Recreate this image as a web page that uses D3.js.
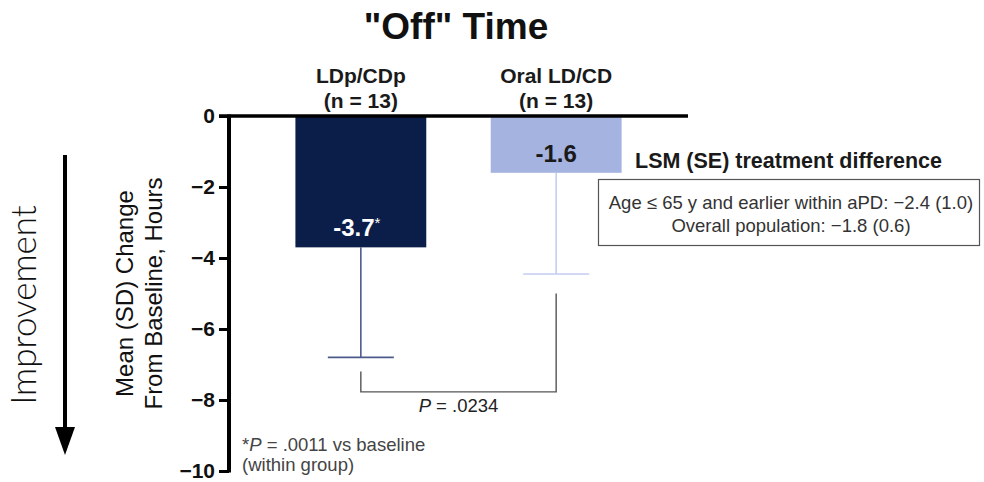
<!DOCTYPE html>
<head>
    <meta charset="utf-8">
    <title>"Off" Time</title>
    <style>
        body { margin: 0; background: #fff; }
        svg { display: block; font-family: "Liberation Sans", Arial, sans-serif; }
    </style>
</head>
<body>

<svg width="984" height="482"></svg>

<script src="https://d3js.org/d3.v7.min.js"></script>

<script>

// data
var groups = ['LDp/CDp', 'Oral LD/CD'],
    groupN = ['(n = 13)', '(n = 13)'],
    means = [-3.7, -1.6],
    sds = [3.1, 2.85],
    valueLabels = ['-3.7', '-1.6'],
    yTicks = [0, -2, -4, -6, -8, -10],
    lsmLines = ['Age \u2264 65 y and earlier within aPD: \u22122.4 (1.0)', 'Overall population: \u22121.8 (0.6)'];

var svg = d3.select('svg');

var barFill = ['#0b1e4a', '#a4b3e0'],
    errColor = ['#4c5a8c', '#c4cdf0'],
    labelColor = ['#ffffff', '#1a1a1a'];

var y = d3.scaleLinear()
    .domain([0, -10])
    .range([116, 471]);

var x = d3.scaleBand()
    .domain(groups)
    .range([229, 688])
    .paddingInner(0.33)
    .paddingOuter(0.34);

var data = groups.map((g, i) => ({ g: g, n: groupN[i], mean: means[i], sd: sds[i], label: valueLabels[i], i: i }));

// title
svg.append('text')
    .attr('x', 456).attr('y', 39)
    .attr('text-anchor', 'middle')
    .attr('font-size', 37).attr('font-weight', 'bold')
    .attr('fill', '#111')
    .text('"Off" Time');

// bars
svg.selectAll('rect.bar')
    .data(data)
    .enter().append('rect')
        .attr('class', 'bar')
        .attr('x', d => x(d.g))
        .attr('y', y(0))
        .attr('width', x.bandwidth())
        .attr('height', d => y(d.mean) - y(0))
        .attr('fill', d => barFill[d.i]);

// error bars (downwards only)
var err = svg.selectAll('g.err')
    .data(data)
    .enter().append('g')
        .attr('class', 'err')
        .attr('stroke', d => errColor[d.i])
        .attr('stroke-width', 1.6);

err.append('line')
    .attr('x1', d => x(d.g) + x.bandwidth() / 2)
    .attr('x2', d => x(d.g) + x.bandwidth() / 2)
    .attr('y1', d => y(d.mean))
    .attr('y2', d => y(d.mean - d.sd));

err.append('line')
    .attr('x1', d => x(d.g) + x.bandwidth() / 2 - 33)
    .attr('x2', d => x(d.g) + x.bandwidth() / 2 + 33)
    .attr('y1', d => y(d.mean - d.sd))
    .attr('y2', d => y(d.mean - d.sd));

// y axis
var yAxis = d3.axisLeft(y)
    .tickValues(yTicks)
    .tickSize(10)
    .tickPadding(4)
    .tickFormat(d => d === 0 ? '0' : '\u2212' + Math.abs(d));

var gy = svg.append('g')
    .attr('transform', 'translate(229,0)')
    .call(yAxis);

gy.select('.domain').remove();
gy.selectAll('.tick line').attr('stroke', '#000').attr('stroke-width', 3);
gy.selectAll('.tick text')
    .attr('font-size', 21).attr('font-weight', 'bold')
    .attr('fill', '#111')
    .attr('font-family', '"Liberation Sans", Arial, sans-serif');

// vertical axis line, drawn thick like the original
svg.append('line')
    .attr('x1', 229).attr('x2', 229)
    .attr('y1', y(0) - 1.5).attr('y2', y(-10) + 1.5)
    .attr('stroke', '#000').attr('stroke-width', 4);

// zero line across the top
svg.append('line')
    .attr('x1', 219).attr('x2', x.range()[1])
    .attr('y1', y(0)).attr('y2', y(0))
    .attr('stroke', '#000').attr('stroke-width', 3.5);

// group labels above the zero line
var cat = svg.selectAll('text.cat')
    .data(data)
    .enter().append('text')
        .attr('class', 'cat')
        .attr('text-anchor', 'middle')
        .attr('font-size', 21).attr('font-weight', 'bold')
        .attr('fill', '#1a1a1a');

cat.append('tspan')
    .attr('x', d => x(d.g) + x.bandwidth() / 2)
    .attr('y', 83)
    .text(d => d.g);
cat.append('tspan')
    .attr('x', d => x(d.g) + x.bandwidth() / 2)
    .attr('y', 108)
    .text(d => d.n);

// value labels in the bars
var val = svg.selectAll('text.val')
    .data(data)
    .enter().append('text')
        .attr('class', 'val')
        .attr('x', d => x(d.g) + x.bandwidth() / 2 + (d.i === 0 ? -4 : 0))
        .attr('y', d => y(d.mean) - 11)
        .attr('text-anchor', 'middle')
        .attr('font-size', 24).attr('font-weight', 'bold')
        .attr('fill', d => labelColor[d.i])
        .text(d => d.label);

val.filter(d => d.i === 0)
    .append('tspan')
        .attr('font-size', 15).attr('font-weight', 'normal')
        .attr('dy', -8)
        .text('*');

// p-value bracket between the groups
var bx0 = x(groups[0]) + x.bandwidth() / 2,
    bx1 = x(groups[1]) + x.bandwidth() / 2,
    bBottom = y(-7.77);

svg.append('path')
    .attr('d', `M${bx0},${y(-7.2)}V${bBottom}H${bx1}V${y(-5.0)}`)
    .attr('fill', 'none')
    .attr('stroke', '#555')
    .attr('stroke-width', 1.4);

var pText = svg.append('text')
    .attr('x', (bx0 + bx1) / 2)
    .attr('y', bBottom + 20)
    .attr('text-anchor', 'middle')
    .attr('font-size', 18.5)
    .attr('fill', '#222');
pText.append('tspan').attr('font-style', 'italic').text('P');
pText.append('tspan').text(' = .0234');

// footnote
var foot = svg.append('text')
    .attr('font-size', 18.5)
    .attr('fill', '#444');
var f1 = foot.append('tspan').attr('x', 242).attr('y', 451);
f1.append('tspan').text('*');
f1.append('tspan').attr('font-style', 'italic').text('P');
f1.append('tspan').text(' = .0011 vs baseline');
foot.append('tspan').attr('x', 242).attr('y', 471).text('(within group)');

// LSM treatment difference
svg.append('text')
    .attr('x', 635).attr('y', 168)
    .attr('font-size', 21.5).attr('font-weight', 'bold')
    .attr('fill', '#1a1a1a')
    .text('LSM (SE) treatment difference');

svg.append('rect')
    .attr('x', 598.5).attr('y', 179.5)
    .attr('width', 381).attr('height', 66)
    .attr('fill', 'none')
    .attr('stroke', '#555')
    .attr('stroke-width', 1.2);

svg.append('text')
    .attr('text-anchor', 'middle')
    .attr('font-size', 18.5)
    .attr('fill', '#333')
    .selectAll('tspan')
    .data(lsmLines)
    .enter().append('tspan')
        .attr('x', 791)
        .attr('y', (d, i) => 209 + i * 23)
        .text(d => d);

// y axis title
svg.append('text')
    .attr('transform', 'translate(0,' + y(-5) + ') rotate(-90)')
    .attr('text-anchor', 'middle')
    .attr('font-size', 24)
    .attr('fill', '#111')
    .selectAll('tspan')
    .data(['Mean (SD) Change', 'From Baseline, Hours'])
    .enter().append('tspan')
        .attr('x', 0)
        .attr('y', (d, i) => 133 + i * 29)
        .text(d => d);

// improvement arrow
svg.append('line')
    .attr('x1', 65).attr('x2', 65)
    .attr('y1', 155).attr('y2', 440)
    .attr('stroke', '#000')
    .attr('stroke-width', 4);

svg.append('path')
    .attr('d', 'M55,427L75,427L65,455Z')
    .attr('fill', '#000');

svg.append('text')
    .attr('transform', 'translate(36,305) rotate(-90)')
    .attr('text-anchor', 'middle')
    .attr('font-size', 35)
    .attr('font-weight', 300)
    .attr('font-family', 'Lato, "Liberation Sans", Arial, sans-serif')
    .attr('fill', '#111')
    .text('Improvement');

</script>

</body>
